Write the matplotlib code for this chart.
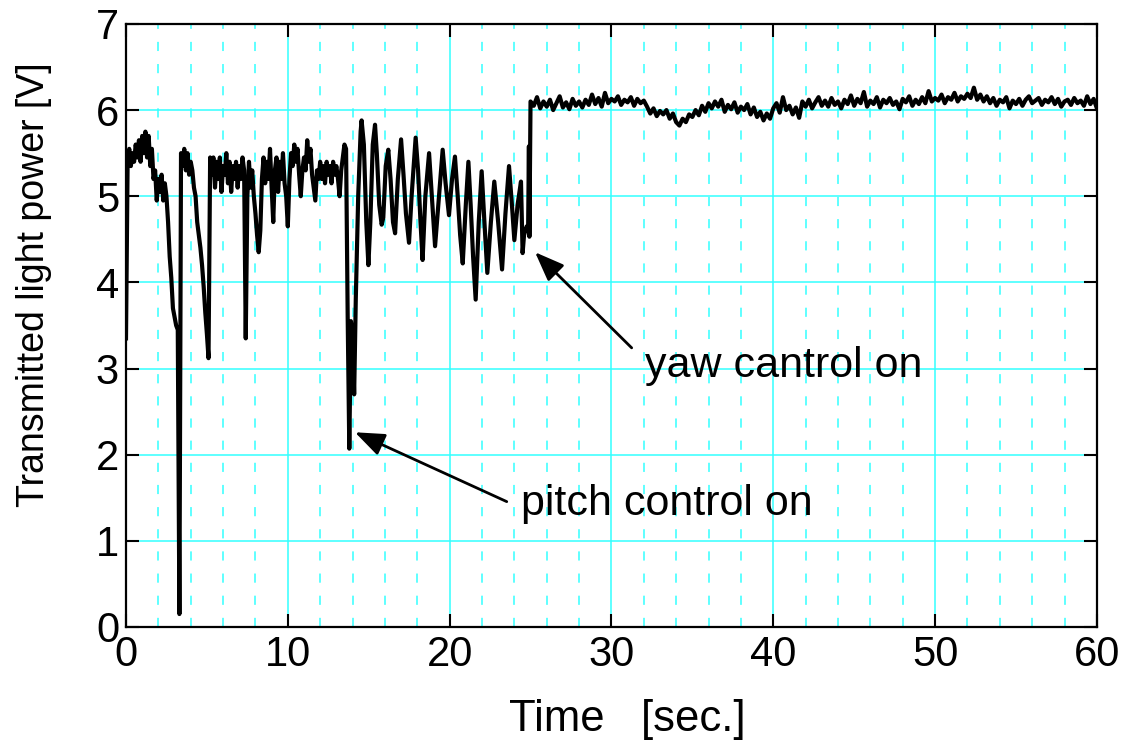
import numpy as np
import matplotlib
matplotlib.use("Agg")
import matplotlib.pyplot as plt
from matplotlib.ticker import MultipleLocator

plt.rcParams["font.family"] = ["Liberation Sans", "DejaVu Sans"]

# 0 - 13.6 s, sampled every 0.1 s (before pitch control)
t_free = np.round(np.arange(0.0, 13.65, 0.1), 2)
v_free = [
    3.35, 5.40, 5.55, 5.35, 5.50, 5.40, 5.60, 5.45, 5.65, 5.40,
    5.70, 5.50, 5.75, 5.45, 5.70, 5.35, 5.55, 5.20, 5.30, 4.95,
    5.20, 5.05, 5.25, 4.95, 5.15, 5.00, 4.70, 4.30, 4.05, 3.70,
    3.60, 3.50, 3.45, 0.15, 5.50, 5.35, 5.55, 5.30, 5.50, 5.25,
    5.40, 5.30, 5.10, 5.00, 4.70, 4.55, 4.40, 4.20, 3.95, 3.65,
    3.40, 3.12, 5.45, 5.25, 5.45, 5.10, 5.40, 5.20, 5.45, 5.05,
    5.35, 5.25, 5.50, 5.15, 5.40, 5.05, 5.35, 5.20, 5.40, 5.10,
    5.35, 5.20, 5.45, 5.30, 3.35, 5.00, 5.40, 5.10, 5.30, 5.00,
    4.80, 4.55, 4.35, 4.60, 5.20, 5.45, 5.15, 5.40, 5.20, 5.55,
    5.10, 4.70, 5.30, 5.45, 5.05, 5.40, 5.20, 5.50, 5.15, 5.00,
    4.65, 5.20, 5.50, 5.35, 5.60, 5.40, 5.55, 5.25, 5.00, 5.30,
    5.45, 5.30, 5.65, 5.40, 5.55, 5.25, 5.10, 4.95, 5.30, 5.20,
    5.40, 5.20, 5.35, 5.15, 5.40, 5.25, 5.35, 5.15, 5.40, 5.25,
    5.35, 5.20, 5.00, 5.30, 5.45, 5.60, 5.55,
]

# 13.7 - 25 s: pitch control on, oscillation (peaks / troughs)
t_pitch = [
    13.7, 13.8, 13.9, 14.0, 14.1, 14.2, 14.35, 14.5, 14.56, 14.7,
    14.85, 14.98, 15.1, 15.25, 15.39, 15.5, 15.65, 15.8, 15.9, 16.05,
    16.21, 16.35, 16.5, 16.63, 16.8, 17.0, 17.15, 17.3, 17.49, 17.65,
    17.9, 18.05, 18.2, 18.33, 18.5, 18.73, 18.9, 19.1, 19.3, 19.57,
    19.75, 19.96, 20.15, 20.33, 20.5, 20.65, 20.81, 21.0, 21.16, 21.3,
    21.45, 21.61, 21.8, 21.98, 22.15, 22.33, 22.55, 22.76, 23.0, 23.24,
    23.45, 23.67, 23.85, 24.0, 24.2, 24.41, 24.51, 24.6, 24.76, 24.85,
    24.9, 24.93, 25.0,
]
v_pitch = [
    3.60, 2.07, 3.55, 3.40, 2.70, 3.80, 5.00, 5.75, 5.88, 5.60,
    4.70, 4.20, 4.70, 5.60, 5.83, 5.50, 4.90, 4.67, 4.75, 5.35,
    5.54, 5.20, 4.70, 4.57, 5.20, 5.66, 5.25, 4.80, 4.46, 5.00,
    5.68, 5.30, 4.70, 4.26, 5.00, 5.50, 5.00, 4.42, 4.90, 5.54,
    5.15, 4.78, 5.20, 5.46, 5.00, 4.55, 4.22, 4.90, 5.40, 4.90,
    4.30, 3.80, 4.70, 5.29, 4.70, 4.11, 4.70, 5.17, 4.70, 4.15,
    4.80, 5.35, 4.90, 4.49, 4.90, 5.17, 4.34, 4.55, 4.65, 4.60,
    5.58, 4.53, 6.10,
]

# 25.2 - 60 s, every 0.2 s: yaw control on
t_yaw = np.round(np.arange(25.2, 60.01, 0.2), 2)
v_yaw = [
    6.05, 6.15, 6.02, 6.10, 6.04, 6.12, 6.00, 6.08, 6.16, 6.03,
    6.09, 6.01, 6.13, 6.05, 6.10, 6.03, 6.12, 6.06, 6.18, 6.07,
    6.14, 6.04, 6.20, 6.08, 6.13, 6.10, 6.16, 6.06, 6.12, 6.09,
    6.15, 6.05, 6.13, 6.08, 6.11, 6.04, 5.96, 6.02, 5.93, 5.99,
    5.95, 6.00, 5.90, 5.96, 5.86, 5.82, 5.90, 5.86, 5.95, 5.92,
    6.00, 5.94, 6.05, 5.98, 6.08, 6.02, 6.10, 6.04, 6.12, 5.98,
    6.06, 6.01, 6.09, 5.97, 6.04, 6.00, 6.07, 5.95, 6.03, 5.92,
    5.98, 5.88, 5.96, 5.90, 6.02, 6.08, 5.97, 6.15, 6.00, 6.05,
    5.95, 6.03, 5.91, 6.10, 6.04, 6.12, 6.02, 6.09, 6.15, 6.05,
    6.11, 6.04, 6.14, 6.06, 6.10, 6.02, 6.12, 6.07, 6.17, 6.05,
    6.13, 6.08, 6.21, 6.04, 6.11, 6.07, 6.15, 6.03, 6.12, 6.08,
    6.14, 6.06, 6.10, 6.01, 6.13, 6.09, 6.16, 6.05, 6.12, 6.07,
    6.15, 6.08, 6.22, 6.10, 6.14, 6.11, 6.18, 6.08, 6.15, 6.12,
    6.20, 6.10, 6.16, 6.13, 6.19, 6.14, 6.26, 6.12, 6.18, 6.10,
    6.16, 6.08, 6.14, 6.05, 6.12, 6.09, 6.15, 6.02, 6.11, 6.07,
    6.13, 6.05, 6.12, 6.16, 6.08, 6.11, 6.14, 6.06, 6.12, 6.09,
    6.15, 6.07, 6.13, 6.04, 6.10, 6.12, 6.06, 6.14, 6.08, 6.11,
    6.05, 6.16, 6.07, 6.13, 6.02,
]

t = np.concatenate([t_free, t_pitch, t_yaw])
v = np.concatenate([v_free, v_pitch, v_yaw])

fig = plt.figure(figsize=(11.25, 7.48), dpi=100)
ax = fig.add_axes([0.112, 0.1618, 0.863, 0.8062])

ax.plot(t, v, color="black", lw=3.0, zorder=3)

ax.set_xlim(0, 60)
ax.set_ylim(0, 7)
ax.xaxis.set_major_locator(MultipleLocator(10))
ax.xaxis.set_minor_locator(MultipleLocator(2))
ax.yaxis.set_major_locator(MultipleLocator(1))

ax.grid(True, which="major", color="#33ffff", lw=1.1, zorder=1)
ax.grid(True, which="minor", axis="x", color="#33ffff", lw=1.1,
        linestyle=(0, (6, 8.5)), zorder=1)
ax.set_axisbelow(True)

ax.tick_params(which="major", direction="in", length=9.5, width=1.5,
               top=True, right=True, labelsize=30)
ax.tick_params(axis="x", which="major", pad=6)
ax.tick_params(axis="y", which="major", pad=5)
ax.tick_params(which="minor", length=0)
for s in ax.spines.values():
    s.set_linewidth(1.6)

ax.set_xlabel("Time   [sec.]", fontsize=31.5)
ax.xaxis.set_label_coords(0.516, -0.119)
ax.set_ylabel("Transmitted light power [V]", fontsize=27, va="center")
ax.yaxis.set_label_coords(-0.095, 0.567)

arrow = dict(arrowstyle="-|>,head_length=0.9,head_width=0.35",
             mutation_scale=20, color="black", lw=2, shrinkA=0, shrinkB=0)
ax.annotate("", xy=(25.28, 4.35), xytext=(31.25, 3.24), arrowprops=arrow, zorder=5)
ax.annotate("", xy=(14.15, 2.26), xytext=(23.53, 1.455), arrowprops=arrow, zorder=5)
ax.text(32.1, 2.90, "yaw cantrol on", fontsize=31, ha="left", va="baseline", zorder=5)
ax.text(24.4, 1.30, "pitch control on", fontsize=31, ha="left", va="baseline", zorder=5)

fig.savefig("out.png", dpi=100, facecolor="white")
